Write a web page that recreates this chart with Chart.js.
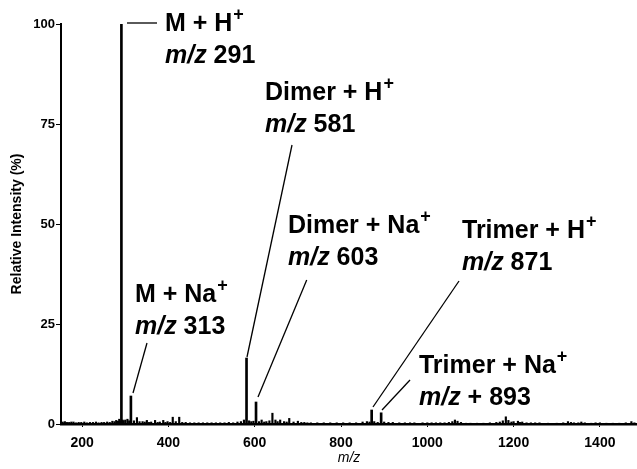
<!DOCTYPE html>
<html>
<head>
<meta charset="utf-8">
<script src="https://cdn.jsdelivr.net/npm/chart.js@4"></script>
<style>
  html, body { margin: 0; padding: 0; background: #fff; }
</style>
</head>
<body>
<canvas id="chart" width="637" height="469"></canvas>
<script>
// main ions (m/z, relative intensity %)
const ionMz = [291, 313, 581, 603, 871, 893];
const ionIntensity = [100, 7, 16.5, 5.5, 3.5, 2.8];
const ionNames = ["M + H", "M + Na", "Dimer + H", "Dimer + Na", "Trimer + H", "Trimer + Na"];
const ionLabels = ["291", "313", "581", "603", "871", "+ 893"];

// minor peaks / baseline chatter
const minorMz = [155, 160, 165, 170, 175, 180, 186, 192, 198, 205, 211, 218, 225, 232, 238, 245,
  251, 258, 264, 270, 275, 279, 283, 286, 289, 294, 296, 300, 305, 309,
  320, 327, 333, 340, 345, 350, 355, 360, 369, 375, 380, 388, 393, 398, 404, 410, 417, 425,
  432, 440, 450, 460, 470, 480, 490, 500, 510, 520, 530, 540, 550, 560, 568, 575, 587, 592,
  597, 610, 616, 622, 627, 634, 641, 648, 653, 659, 668, 674, 680, 690, 700, 708, 715, 722,
  730, 745, 760, 775, 790, 805, 820, 835, 850, 860, 866, 877, 885, 900, 910, 920, 935, 948,
  960, 970, 989, 1000, 1010, 1020, 1030, 1040, 1050, 1058, 1064, 1070, 1078, 1090, 1100,
  1115, 1130, 1145, 1160, 1168, 1175, 1182, 1188, 1195, 1200, 1210, 1215, 1220, 1230, 1240,
  1250, 1260, 1280, 1300, 1315, 1326, 1333, 1340, 1350, 1357, 1365, 1380, 1390, 1400, 1415,
  1430, 1445, 1460, 1473, 1480];
const minorIntensity = [0.5, 0.6, 0.4, 0.4, 0.5, 0.5, 0.3, 0.4, 0.4, 0.5, 0.3, 0.4, 0.4, 0.5, 0.3, 0.4,
  0.4, 0.5, 0.4, 0.7, 0.6, 0.9, 0.7, 1.2, 0.8, 1.0, 0.8, 1.0, 1.2, 0.8,
  0.8, 1.6, 0.6, 0.6, 0.5, 0.9, 0.4, 0.5, 0.9, 0.4, 0.5, 0.9, 0.4, 0.6, 0.4, 1.7, 0.6, 1.7,
  0.4, 0.4, 0.3, 0.3, 0.3, 0.3, 0.3, 0.3, 0.3, 0.3, 0.3, 0.4, 0.3, 0.5, 0.6, 1.0, 0.8, 0.6,
  0.7, 0.6, 1.0, 0.5, 0.6, 0.8, 2.7, 1.0, 0.6, 1.0, 0.6, 0.5, 1.4, 0.5, 0.7, 0.4, 0.4, 0.3,
  0.3, 0.3, 0.3, 0.3, 0.3, 0.3, 0.3, 0.3, 0.5, 0.6, 0.5, 0.6, 0.4, 0.5, 0.4, 0.4, 0.3, 0.3,
  0.3, 0.3, 0.3, 0.3, 0.3, 0.3, 0.3, 0.3, 0.4, 0.6, 1.0, 0.7, 0.4, 0.2, 0.2,
  0.2, 0.2, 0.3, 0.4, 0.5, 0.8, 1.8, 0.9, 0.5, 0.6, 0.7, 0.4, 0.5, 0.3, 0.3,
  0.3, 0.3, 0.2, 0.2, 0.3, 0.6, 0.4, 0.3, 0.3, 0.5, 0.3, 0.2, 0.3, 0.3, 0.2,
  0.2, 0.2, 0.3, 0.6, 0.3];

const xTicks = [200, 400, 600, 800, 1000, 1200, 1400];
const yTicks = [0, 25, 50, 75, 100];

// where each label sits (data units): text anchor, leader line from/to
const labelLayout = [
  { at: [392, 98.25], from: [304, 100.25], to: [373.5, 100.25] },
  { at: [322.5, 30.5], from: [350.3, 20.25], to: [317.9, 7.75] },
  { at: [623.8, 81], from: [686.4, 69.75], to: [582.1, 16.75] },
  { at: [677.1, 47.75], from: [720.5, 36], to: [607.6, 6.75] },
  { at: [1080.4, 46.5], from: [1073.5, 35.75], to: [874.1, 4.25] },
  { at: [980.7, 12.75], from: [959.9, 11], to: [895, 3.5] },
];

const FONT = "'Liberation Sans', Arial, Helvetica, sans-serif";

const peakLabels = {
  id: "peakLabels",
  afterDatasetsDraw(chart) {
    const { ctx } = chart;
    const x = chart.scales.x;
    const y = chart.scales.y;
    ctx.save();
    ctx.fillStyle = "#000";
    ctx.strokeStyle = "#000";
    ctx.lineWidth = 1.3;
    ctx.textBaseline = "alphabetic";
    ctx.textAlign = "left";
    labelLayout.forEach((l, i) => {
      ctx.beginPath();
      ctx.moveTo(x.getPixelForValue(l.from[0]), y.getPixelForValue(l.from[1]));
      ctx.lineTo(x.getPixelForValue(l.to[0]), y.getPixelForValue(l.to[1]));
      ctx.stroke();

      const px = x.getPixelForValue(l.at[0]);
      const py = y.getPixelForValue(l.at[1]);
      ctx.font = "bold 25px " + FONT;
      ctx.fillText(ionNames[i], px, py);
      const w = ctx.measureText(ionNames[i]).width;
      ctx.font = "bold 18px " + FONT;
      ctx.fillText("+", px + w + 1, py - 11);

      ctx.font = "italic bold 25px " + FONT;
      ctx.fillText("m/z", px, py + 32);
      const w2 = ctx.measureText("m/z ").width;
      ctx.font = "bold 25px " + FONT;
      ctx.fillText(ionLabels[i], px + w2, py + 32);
    });
    ctx.restore();
  },
};

const data = {
  datasets: [
    {
      data: ionMz.map((m, i) => ({ x: m, y: ionIntensity[i] })),
      backgroundColor: "#000",
      barThickness: 2,
      grouped: false,
    },
    {
      data: minorMz.map((m, i) => ({ x: m, y: minorIntensity[i] })),
      backgroundColor: "#000",
      barThickness: 1.5,
      grouped: false,
    },
  ],
};

const config = {
  type: "bar",
  data: data,
  options: {
    responsive: false,
    animation: false,
    devicePixelRatio: 1,
    layout: { padding: { top: 24, right: 0, left: 0, bottom: 0 } },
    plugins: {
      legend: { display: false },
      tooltip: { enabled: false },
    },
    scales: {
      x: {
        type: "linear",
        min: 151,
        max: 1486,
        offset: false,
        afterBuildTicks: (scale) => { scale.ticks = xTicks.map((v) => ({ value: v })); },
        afterFit: (scale) => { scale.height = 45; },
        border: { display: true, color: "#000", width: 2.5 },
        grid: { drawOnChartArea: false, drawTicks: true, tickLength: 3, color: "#000", offset: false },
        ticks: {
          color: "#000",
          padding: 8,
          maxRotation: 0,
          callback: (v) => String(v),
          font: { family: FONT, weight: "bold", size: 14 },
        },
        title: {
          display: true,
          text: "m/z",
          color: "#000",
          padding: { top: 0, bottom: 2 },
          font: { family: FONT, style: "italic", size: 14 },
        },
      },
      y: {
        min: 0,
        max: 100,
        afterBuildTicks: (scale) => { scale.ticks = yTicks.map((v) => ({ value: v })); },
        afterFit: (scale) => { scale.width = 61; },
        border: { display: true, color: "#000", width: 2 },
        grid: { drawOnChartArea: false, drawTicks: true, tickLength: 5, color: "#000" },
        ticks: {
          color: "#000",
          padding: 1,
          font: { family: FONT, weight: "bold", size: 13 },
        },
        title: {
          display: true,
          text: "Relative Intensity (%)",
          color: "#000",
          padding: { top: 9, bottom: 0 },
          font: { family: FONT, weight: "bold", size: 14 },
        },
      },
    },
  },
  plugins: [peakLabels],
};

const myChart = new Chart(document.getElementById("chart").getContext("2d"), config);
</script>
</body>
</html>
